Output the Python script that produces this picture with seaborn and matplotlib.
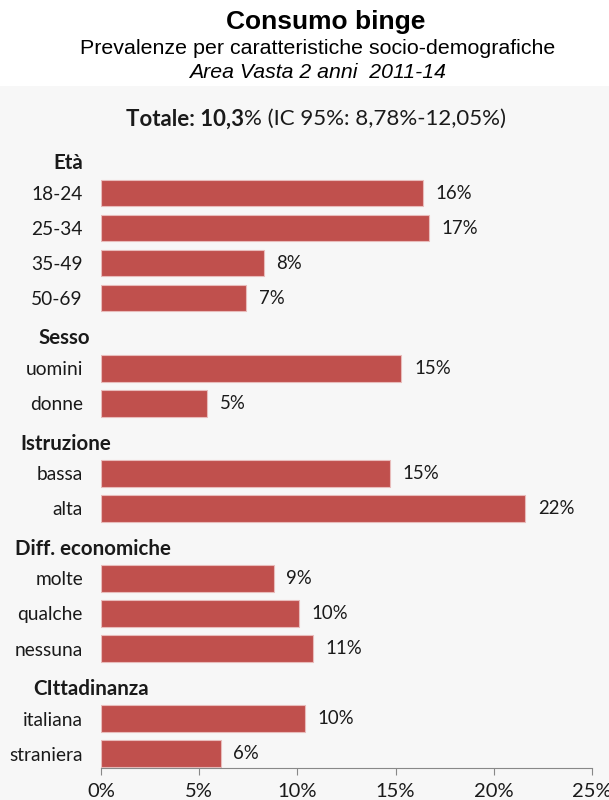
import numpy as np
import pandas as pd
import matplotlib
matplotlib.use("Agg")
import matplotlib.pyplot as plt
import matplotlib.transforms as mtransforms
from matplotlib.patches import Rectangle
from matplotlib.ticker import FuncFormatter
import seaborn as sns

# data (%)
groups = ["Età", "Sesso", "Istruzione", "Diff. economiche", "CIttadinanza"]
eta_labels = ["18-24", "25-34", "35-49", "50-69"]
eta_values = [16.4, 16.7, 8.3, 7.4]
sesso_labels = ["uomini", "donne"]
sesso_values = [15.3, 5.4]
istruzione_labels = ["bassa", "alta"]
istruzione_values = [14.7, 21.6]
diff_labels = ["molte", "qualche", "nessuna"]
diff_values = [8.8, 10.1, 10.8]
citt_labels = ["italiana", "straniera"]
citt_values = [10.4, 6.1]
x_ticks = [0, 5, 10, 15, 20, 25]

title = "Consumo binge"
subtitle = "Prevalenze per caratteristiche socio-demografiche"
subtitle2 = "Area Vasta 2 anni  2011-14"
totale_bold = "Totale: 10,3"
totale_rest = "% (IC 95%: 8,78%-12,05%)"

# style
BAR = "#C0504D"
TEXT = "#1a1a1a"
BG = "#f7f7f7"
header_x_px = [53, 38, 20, 15, 33]
LBL = 13.8

sns.set_style("white")
plt.rcParams["font.family"] = ["Lato", "DejaVu Sans"]

rows = []
for g, labs, vals in zip(groups,
                         [eta_labels, sesso_labels, istruzione_labels, diff_labels, citt_labels],
                         [eta_values, sesso_values, istruzione_values, diff_values, citt_values]):
    rows.append({"row": g, "value": np.nan, "header": True})
    for l, v in zip(labs, vals):
        rows.append({"row": l, "value": v, "header": False})
df = pd.DataFrame(rows)
order = list(df["row"])
items = df[~df["header"]]

W, H = 609, 800
fig = plt.figure(figsize=(W / 100, H / 100), dpi=100)
fig.patches.append(Rectangle((0, 0), 1, (H - 86) / H, transform=fig.transFigure,
                             facecolor=BG, edgecolor="none", zorder=-10))

ax = fig.add_axes([101 / W, 32 / H, (592 - 101) / W, (768 - 137) / H])
ax.set_facecolor("none")

sns.barplot(data=items, x="value", y="row", order=order, orient="h",
            color=BAR, saturation=1, width=0.76, errorbar=None,
            edgecolor="#e8bcbb", linewidth=0.8, ax=ax)

ax.set_xlim(0, 25)
ax.set_ylim(len(order) - 1 + 0.41, -0.6)

ax.bar_label(ax.containers[0], labels=[f"{v:.0f}%" for v in items["value"]],
             padding=9, fontsize=13.4, color=TEXT)

# y labels: items right aligned, headers bold
ax.set_yticks(range(len(order)))
ax.set_yticklabels([("" if h else r) for r, h in zip(df["row"], df["header"])],
                   fontsize=LBL, color=TEXT)
ax.tick_params(axis="y", length=0, pad=13)
trans = mtransforms.blended_transform_factory(fig.transFigure, ax.transData)
hdr_pos = [i for i, h in enumerate(df["header"]) if h]
for g, i, xp in zip(groups, hdr_pos, header_x_px):
    ax.text(xp / W, i + 0.15, g, transform=trans, fontsize=14.8,
            fontweight="bold", color=TEXT, va="center", ha="left")

ax.set_xticks(x_ticks)
ax.xaxis.set_major_formatter(FuncFormatter(lambda v, p: f"{v:.0f}%"))
ax.tick_params(axis="x", length=5, width=0.8, color="#888888", pad=6,
               labelsize=14.5, labelcolor=TEXT, bottom=True)
for s in ["top", "right", "left"]:
    ax.spines[s].set_visible(False)
ax.spines["bottom"].set_color("#888888")
ax.spines["bottom"].set_linewidth(0.8)
ax.set_xlabel("")
ax.set_ylabel("")

# titles
cx = 318 / W
fig.text(326 / W, 1 - 22 / H, title, ha="center", va="center", fontsize=19,
         fontweight="bold", family="Liberation Sans", color="black")
fig.text(cx, 1 - 49 / H, subtitle, ha="center", va="center", fontsize=15.4,
         family="Liberation Sans", color="black")
fig.text(cx, 1 - 72 / H, subtitle2, ha="center", va="center", fontsize=15.3,
         family="Liberation Sans", style="italic", color="black")

# Totale line: bold part + normal part, centred together
t1 = fig.text(0, 1 - 119 / H, totale_bold, ha="left", va="center", fontsize=16,
              fontweight="bold", color=TEXT)
t2 = fig.text(0, 1 - 119 / H, totale_rest, ha="left", va="center", fontsize=16,
              color=TEXT)
r = fig.canvas.get_renderer()
w1 = t1.get_window_extent(r).width
w2 = t2.get_window_extent(r).width
x0 = 316 - (w1 + w2) / 2
t1.set_x(x0 / W)
t2.set_x((x0 + w1) / W)

fig.savefig("out.png", dpi=100)
